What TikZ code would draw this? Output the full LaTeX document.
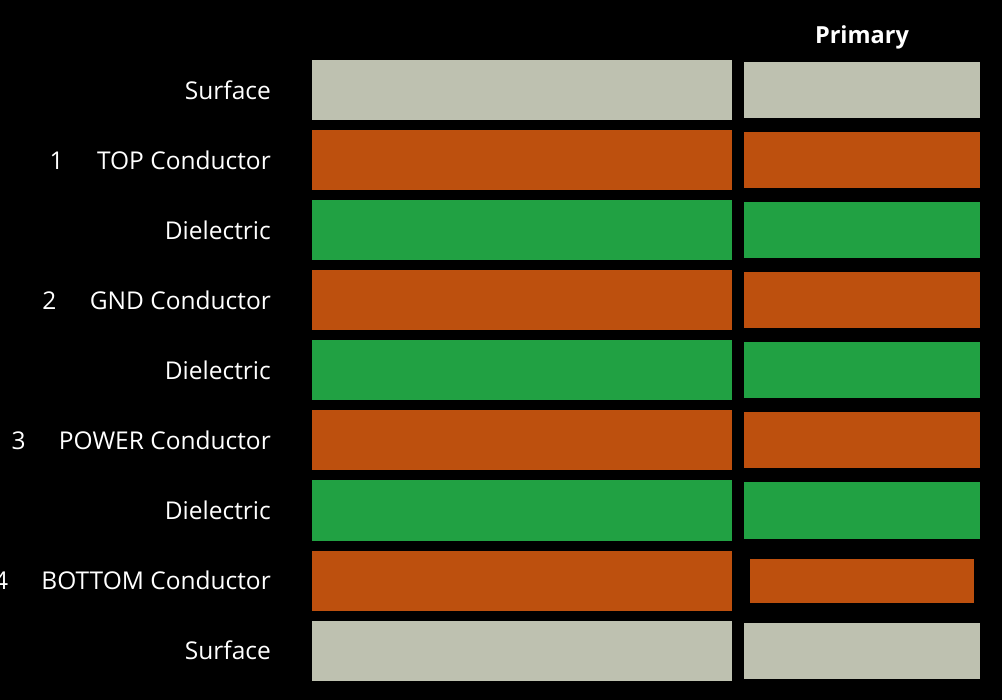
\documentclass[tikz,border=0pt]{standalone}
\usepackage{fontspec}
\setmainfont{Open Sans}
\usepackage{tikz}
\usetikzlibrary{positioning}
\usetikzlibrary{math}
\definecolor{surfacegrey}{RGB}{190,193,176}
\definecolor{copperorange}{RGB}{189,80,14}
\definecolor{dielgreen}{RGB}{33,161,67}
\tikzstyle{layerbar} = [rectangle, inner sep=0pt, minimum width=420pt, minimum height=60pt]
\tikzstyle{primbar} = [rectangle, inner sep=0pt, minimum width=236pt, minimum height=56pt]
\tikzstyle{layerlabel} = [anchor=base east, inner sep=0pt, text=white, font=\fontsize{24.5}{29}\selectfont]
\tikzstyle{layernum} = [anchor=base east, inner sep=0pt, text=white, font=\fontsize{24.5}{29}\selectfont]

\begin{document}
\begin{tikzpicture}[x=1pt, y=-1pt]

  \tikzmath{\lx = 522; \rx = 862; \tx = 271; \dy = 70; \ytop = 90.5;}

  \fill[black] (0,0) rectangle (1002,700);
  \useasboundingbox (0,0) rectangle (1002,700);

  \node[inner sep=0pt, anchor=base, text=white, font=\fontsize{23.5}{28}\selectfont\bfseries] (primary) at (\rx,44) {Primary};

  \foreach \i/\txt/\col in {0/Surface/surfacegrey, 1/TOP Conductor/copperorange, 2/Dielectric/dielgreen,
      3/GND Conductor/copperorange, 4/Dielectric/dielgreen, 5/POWER Conductor/copperorange,
      6/Dielectric/dielgreen, 7/BOTTOM Conductor/copperorange, 8/Surface/surfacegrey} {
    \node[layerbar, fill=\col] (stack\i) at (\lx,\ytop+\i*\dy) {};
    \node[layerlabel] (label\i) at (\tx,\ytop+\i*\dy+9) {\txt};
  }

  % primary column
  \foreach \i/\col in {0/surfacegrey, 1/copperorange, 2/dielgreen, 3/copperorange,
      4/dielgreen, 5/copperorange, 6/dielgreen, 8/surfacegrey} {
    \node[primbar, fill=\col] (prim\i) at (\rx,\ytop+\i*\dy) {};
  }
  \node[primbar, fill=copperorange, minimum width=224pt, minimum height=44pt] (prim7) at (\rx,\ytop+7*\dy) {};

  % layer numbers
  \foreach \i/\n in {1/1, 3/2, 5/3, 7/4} {
    \node[layernum] (num\n) at ([xshift=-33pt]label\i.base west) {\n};
  }

\end{tikzpicture}
\end{document}
